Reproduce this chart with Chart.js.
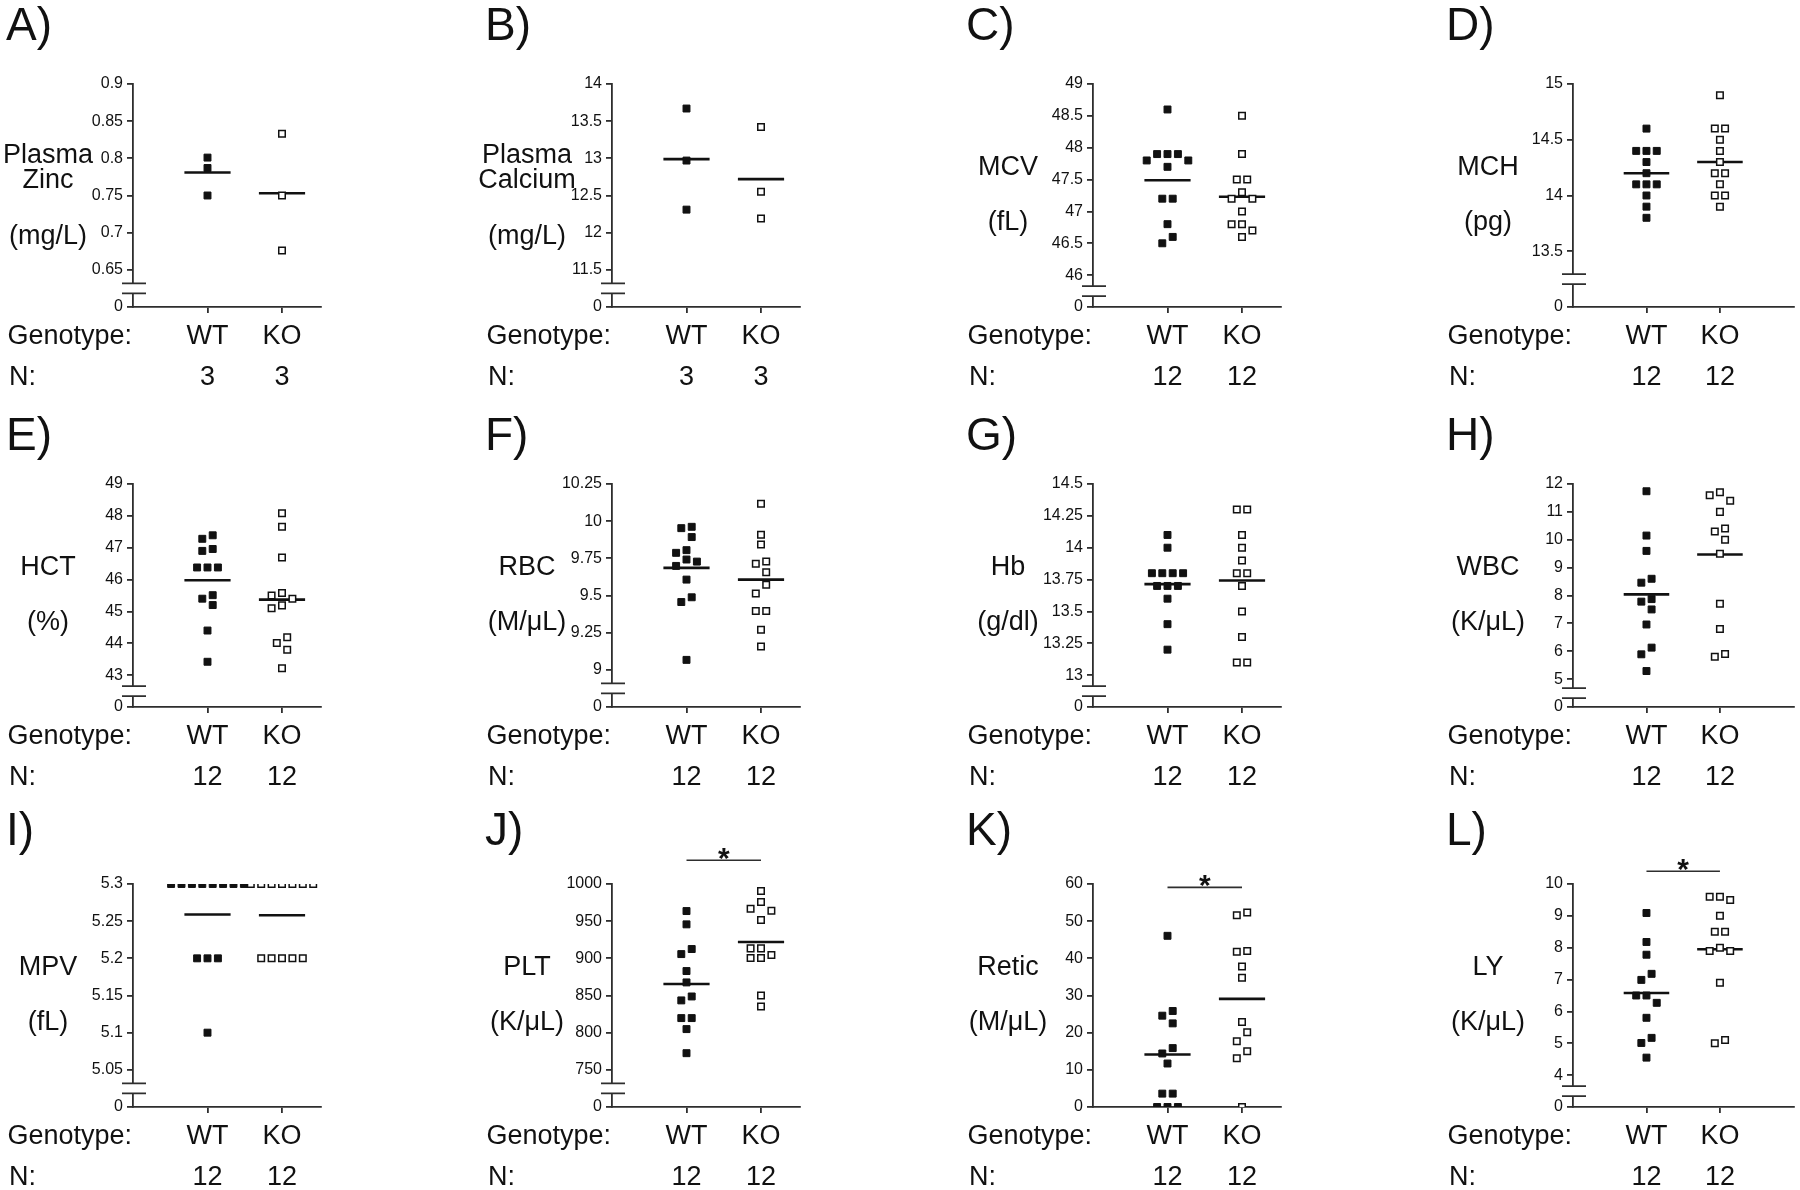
<!DOCTYPE html>
<html>
<head>
<meta charset="utf-8">
<script src="https://cdn.jsdelivr.net/npm/chart.js@4.4.0/dist/chart.umd.min.js"></script>
<style>
  body { margin: 0; width: 1800px; height: 1190px; overflow: hidden; background: #fff; }
  canvas { position: absolute; }
</style>
</head>
<body>
<script>
// WT (filled) / KO (open) values per panel
const zincWT = [0.801, 0.787, 0.750];
const zincKO = [0.833, 0.750, 0.676];
const zincMeans = [0.781, 0.753];
const zincTicks = [0.65, 0.7, 0.75, 0.8, 0.85, 0.9];

const calciumWT = [13.67, 12.97, 12.31];
const calciumKO = [13.42, 12.55, 12.19];
const calciumMeans = [12.99, 12.72];
const calciumTicks = [11.5, 12, 12.5, 13, 13.5, 14];

const mcvWT = [48.6, 47.9, 47.9, 47.9, 47.8, 47.8, 47.7, 47.2, 47.2, 46.8, 46.6, 46.5];
const mcvKO = [48.5, 47.9, 47.5, 47.5, 47.3, 47.2, 47.2, 47.0, 46.8, 46.8, 46.7, 46.6];
const mcvMeans = [47.49, 47.23];
const mcvTicks = [46, 46.5, 47, 47.5, 48, 48.5, 49];

const mchWT = [14.6, 14.4, 14.4, 14.4, 14.3, 14.2, 14.1, 14.1, 14.1, 14.0, 13.9, 13.8];
const mchKO = [14.9, 14.6, 14.6, 14.5, 14.4, 14.3, 14.2, 14.2, 14.1, 14.0, 14.0, 13.9];
const mchMeans = [14.2, 14.3];
const mchTicks = [13.5, 14, 14.5, 15];

const hctWT = [47.39, 47.28, 46.96, 46.90, 46.38, 46.38, 46.38, 45.51, 45.40, 45.20, 44.40, 43.42];
const hctKO = [48.08, 47.66, 46.69, 45.58, 45.50, 45.40, 45.19, 45.10, 44.19, 44.01, 43.80, 43.22];
const hctMeans = [45.98, 45.37];
const hctTicks = [43, 44, 45, 46, 47, 48, 49];

const rbcWT = [9.962, 9.953, 9.893, 9.805, 9.787, 9.742, 9.728, 9.699, 9.607, 9.488, 9.456, 9.067];
const rbcKO = [10.117, 9.908, 9.843, 9.728, 9.713, 9.656, 9.573, 9.513, 9.396, 9.396, 9.27, 9.157];
const rbcMeans = [9.686, 9.607];
const rbcTicks = [9, 9.25, 9.5, 9.75, 10, 10.25];

const hbWT = [14.1, 14.0, 13.8, 13.8, 13.8, 13.8, 13.7, 13.7, 13.7, 13.6, 13.4, 13.2];
const hbKO = [14.3, 14.3, 14.1, 14.0, 13.9, 13.8, 13.8, 13.7, 13.5, 13.3, 13.1, 13.1];
const hbMeans = [13.714, 13.743];
const hbTicks = [13, 13.25, 13.5, 13.75, 14, 14.25, 14.5];

const wbcWT = [11.74, 10.15, 9.60, 8.60, 8.46, 7.87, 7.78, 7.50, 6.96, 6.13, 5.89, 5.29];
const wbcKO = [11.7, 11.6, 11.4, 11.0, 10.4, 10.3, 10.0, 9.5, 7.7, 6.8, 5.9, 5.8];
const wbcMeans = [8.04, 9.47];
const wbcTicks = [5, 6, 7, 8, 9, 10, 11, 12];

const mpvWT = [5.3, 5.3, 5.3, 5.3, 5.3, 5.3, 5.3, 5.3, 5.2, 5.2, 5.2, 5.1];
const mpvKO = [5.3, 5.3, 5.3, 5.3, 5.3, 5.3, 5.3, 5.2, 5.2, 5.2, 5.2, 5.2];
const mpvMeans = [5.259, 5.258];
const mpvTicks = [5.05, 5.1, 5.15, 5.2, 5.25, 5.3];

const pltWT = [963.6, 945.7, 912.5, 905.7, 882.9, 867.6, 848.7, 843.4, 819.6, 819.6, 804.8, 772.4];
const pltKO = [990.6, 975.8, 966.8, 964.1, 951.5, 913.4, 913.4, 904.4, 900.4, 900.4, 850.1, 835.3];
const pltMeans = [865.4, 921.9];
const pltTicks = [750, 800, 850, 900, 950, 1000];

const reticWT = [46.06, 25.83, 24.57, 22.5, 15.85, 14.4, 11.7, 3.6, 3.6, 0, 0, 0];
const reticKO = [52.3, 51.6, 42.0, 41.8, 37.8, 34.8, 22.9, 20.1, 17.7, 15.0, 13.1, 0];
const reticMeans = [14.14, 29.1];
const reticTicks = [0, 10, 20, 30, 40, 50, 60];

const lyWT = [9.09, 8.18, 7.78, 7.18, 6.99, 6.50, 6.50, 6.27, 5.80, 5.17, 5.01, 4.55];
const lyKO = [9.6, 9.6, 9.5, 9.0, 8.5, 8.5, 8.0, 7.9, 7.9, 6.9, 5.1, 5.0];
const lyMeans = [6.58, 7.95];
const lyTicks = [4, 5, 6, 7, 8, 9, 10];

// height of the significance bar (value on the y scale)
const pltSig = 1032;
const reticSig = 59.1;
const lySig = 10.4;

const groups = ['WT', 'KO'];

const panels = [
  { letter: 'A', label: ['Plasma', 'Zinc'], unit: '(mg/L)', wt: zincWT, ko: zincKO, means: zincMeans, ticks: zincTicks },
  { letter: 'B', label: ['Plasma', 'Calcium'], unit: '(mg/L)', wt: calciumWT, ko: calciumKO, means: calciumMeans, ticks: calciumTicks },
  { letter: 'C', label: ['MCV'], unit: '(fL)', wt: mcvWT, ko: mcvKO, means: mcvMeans, ticks: mcvTicks },
  { letter: 'D', label: ['MCH'], unit: '(pg)', wt: mchWT, ko: mchKO, means: mchMeans, ticks: mchTicks },
  { letter: 'E', label: ['HCT'], unit: '(%)', wt: hctWT, ko: hctKO, means: hctMeans, ticks: hctTicks },
  { letter: 'F', label: ['RBC'], unit: '(M/\u03bcL)', wt: rbcWT, ko: rbcKO, means: rbcMeans, ticks: rbcTicks },
  { letter: 'G', label: ['Hb'], unit: '(g/dl)', wt: hbWT, ko: hbKO, means: hbMeans, ticks: hbTicks },
  { letter: 'H', label: ['WBC'], unit: '(K/\u03bcL)', wt: wbcWT, ko: wbcKO, means: wbcMeans, ticks: wbcTicks },
  { letter: 'I', label: ['MPV'], unit: '(fL)', wt: mpvWT, ko: mpvKO, means: mpvMeans, ticks: mpvTicks },
  { letter: 'J', label: ['PLT'], unit: '(K/\u03bcL)', wt: pltWT, ko: pltKO, means: pltMeans, ticks: pltTicks, sig: pltSig },
  { letter: 'K', label: ['Retic'], unit: '(M/\u03bcL)', wt: reticWT, ko: reticKO, means: reticMeans, ticks: reticTicks, sig: reticSig, noBreak: true },
  { letter: 'L', label: ['LY'], unit: '(K/\u03bcL)', wt: lyWT, ko: lyKO, means: lyMeans, ticks: lyTicks, sig: lySig }
];

const FONT = "'Liberation Sans', Arial, Helvetica, sans-serif";
const INK = '#111';
const AXIS = '#2e2e2e';

// layout of one panel canvas
const CW = 360, CH = 400;
const AX = 133, TOP = 84, PLOT_H = 223;
const UNIT_PX = 74.5;
const colLeft = [0, 479, 960, 1440];
const rowTop = [0, 400, 800];
const colAxisLen = [188, 188, 188, 224];
const letterBase = [40, 50, 45];

// GraphPad-like column scatter: spread points that would overlap
function swarm(values, pxPerVal) {
  const order = values.map((v, i) => i).sort((a, b) => values[b] - values[a]);
  const dx = new Array(values.length).fill(0);
  let group = [];
  const flush = () => {
    const pts = [];
    group.forEach(i => {
      const y = values[i] * pxPerVal;
      for (let k = 0; ; k++) {
        const c = (k % 2 ? -1 : 1) * Math.ceil(k / 2) * 5.2;
        if (pts.every(p => Math.abs(p.x - c) >= 10 || Math.abs(p.y - y) >= 9)) {
          pts.push({ x: c, y });
          dx[i] = c;
          break;
        }
      }
    });
    const lo = Math.min(...pts.map(p => p.x)), hi = Math.max(...pts.map(p => p.x));
    group.forEach(i => { dx[i] -= (lo + hi) / 2; });
    group = [];
  };
  order.forEach((i, n) => {
    if (n && (values[order[n - 1]] - values[i]) * pxPerVal >= 9) flush();
    group.push(i);
  });
  flush();
  return dx.map(p => p / UNIT_PX);
}

// letters, axis labels, genotype / N rows, axis break, star
const panelText = {
  id: 'panelText',
  afterDraw(chart, args, o) {
    const ctx = chart.ctx, xs = chart.scales.x, ys = chart.scales.y;
    const left = chart.chartArea.left, bottom = chart.chartArea.bottom;
    ctx.save();

    if (!o.noBreak) {
      const yc = (ys.getPixelForValue(ys.min) + ys.getPixelForValue(o.ticks[0])) / 2;
      ctx.fillStyle = '#fff';
      ctx.fillRect(left - 3, yc - 5, 6, 10);
      ctx.strokeStyle = AXIS;
      ctx.lineWidth = 1.8;
      ctx.beginPath();
      ctx.moveTo(left - 11, yc - 5); ctx.lineTo(left + 13, yc - 5);
      ctx.moveTo(left - 11, yc + 5); ctx.lineTo(left + 13, yc + 5);
      ctx.stroke();
    }

    ctx.fillStyle = INK;
    ctx.font = `46px ${FONT}`;
    ctx.textAlign = 'left';
    ctx.textBaseline = 'alphabetic';
    ctx.fillText(o.letter + ')', left - 127, o.letterY);

    ctx.font = `27px ${FONT}`;
    ctx.textAlign = 'center';
    ctx.textBaseline = 'middle';
    const lx = left - 85;
    if (o.label.length === 2) {
      ctx.fillText(o.label[0], lx, TOP + 72);
      ctx.fillText(o.label[1], lx, TOP + 97);
      ctx.fillText(o.unit, lx, TOP + 153);
    } else {
      ctx.fillText(o.label[0], lx, TOP + 84);
      ctx.fillText(o.unit, lx, TOP + 139);
    }

    const gy = bottom + 30, ny = bottom + 71;
    ctx.textAlign = 'right';
    ctx.fillText('Genotype:', left - 1, gy);
    ctx.textAlign = 'left';
    ctx.fillText('N:', left - 124, ny);
    ctx.textAlign = 'center';
    o.counts.forEach((n, i) => {
      const px = xs.getPixelForValue(i + 1);
      ctx.fillText(groups[i], px, gy);
      ctx.fillText(String(n), px, ny);
    });

    if (o.sig !== undefined) {
      ctx.font = `bold 30px ${FONT}`;
      ctx.textBaseline = 'alphabetic';
      ctx.fillText('*', xs.getPixelForValue(1.5), ys.getPixelForValue(o.sig) + 8);
    }
    ctx.restore();
  }
};

panels.forEach((p, k) => {
  const col = k % 4, row = Math.floor(k / 4);
  const canvas = document.createElement('canvas');
  canvas.width = CW;
  canvas.height = CH;
  canvas.style.left = colLeft[col] + 'px';
  canvas.style.top = rowTop[row] + 'px';
  document.body.appendChild(canvas);

  const step = p.ticks[1] - p.ticks[0];
  const yMin = p.noBreak ? p.ticks[0] : p.ticks[0] - step;
  const yMax = p.ticks[p.ticks.length - 1];
  const tickVals = p.noBreak ? p.ticks.slice() : [yMin].concat(p.ticks);
  const tickText = p.noBreak ? p.ticks.map(String) : ['0'].concat(p.ticks.map(String));
  const pxPerVal = PLOT_H / (yMax - yMin);
  const xLen = colAxisLen[col];

  const wtOff = swarm(p.wt, pxPerVal);
  const koOff = swarm(p.ko, pxPerVal);

  const datasets = [
    {
      data: p.wt.map((v, i) => ({ x: 1 + wtOff[i], y: v })),
      pointStyle: 'rect', pointRadius: 4.9,
      backgroundColor: INK, borderColor: INK, borderWidth: 1
    },
    {
      data: p.ko.map((v, i) => ({ x: 2 + koOff[i], y: v })),
      pointStyle: 'rect', pointRadius: 4.6,
      backgroundColor: '#fff', borderColor: INK, borderWidth: 1.5
    }
  ];
  p.means.forEach((m, i) => {
    datasets.push({
      data: [{ x: i + 1 - 0.31, y: m }, { x: i + 1 + 0.31, y: m }],
      showLine: true, pointRadius: 0, borderColor: INK, borderWidth: 2.6
    });
  });
  if (p.sig !== undefined) {
    datasets.push({
      data: [{ x: 1, y: p.sig }, { x: 2, y: p.sig }],
      showLine: true, pointRadius: 0, borderColor: AXIS, borderWidth: 1.6, clip: false
    });
  }

  new Chart(canvas, {
    type: 'scatter',
    data: { datasets },
    options: {
      responsive: false,
      animation: false,
      events: [],
      layout: { padding: { left: AX - 60, top: TOP, right: CW - AX - xLen, bottom: CH - TOP - PLOT_H - 10 } },
      plugins: {
        legend: { display: false },
        tooltip: { enabled: false },
        panelText: {
          letter: p.letter, letterY: letterBase[row], label: p.label, unit: p.unit,
          ticks: p.ticks, noBreak: !!p.noBreak, sig: p.sig,
          counts: [p.wt.length, p.ko.length]
        }
      },
      scales: {
        x: {
          type: 'linear', min: 0, max: xLen / UNIT_PX,
          afterBuildTicks: s => { s.ticks = [{ value: 1 }, { value: 2 }]; },
          afterFit: s => { s.height = 10; },
          ticks: { display: false },
          grid: { drawOnChartArea: false, drawTicks: true, tickLength: 6, color: AXIS, lineWidth: 1.8 },
          border: { display: true, color: AXIS, width: 1.8 }
        },
        y: {
          type: 'linear', min: yMin, max: yMax,
          afterBuildTicks: s => { s.ticks = tickVals.map(v => ({ value: v })); },
          afterFit: s => { s.width = 60; },
          ticks: {
            autoSkip: false, padding: 4, color: INK,
            font: { family: FONT, size: 16 },
            callback: (v, i) => tickText[i]
          },
          grid: { drawOnChartArea: false, drawTicks: true, tickLength: 6, color: AXIS, lineWidth: 1.8 },
          border: { display: true, color: AXIS, width: 1.8 }
        }
      }
    },
    plugins: [panelText]
  });
});
</script>
</body>
</html>
